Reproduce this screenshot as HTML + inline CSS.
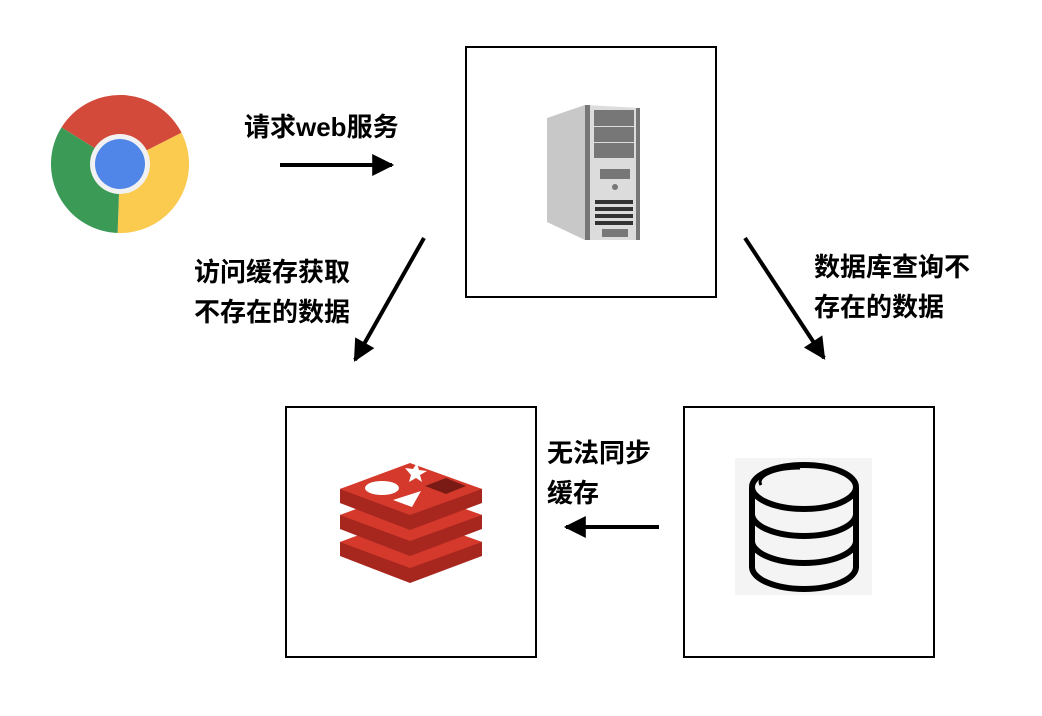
<!DOCTYPE html>
<html><head><meta charset="utf-8"><style>
html,body{margin:0;padding:0;background:#fff;}
body{width:1042px;height:716px;position:relative;overflow:hidden;font-family:"Liberation Sans","Noto Sans CJK SC",sans-serif;}
.t{position:absolute;font-size:26px;font-weight:bold;color:#000;line-height:40px;white-space:nowrap;}
</style></head><body>
<svg width="1042" height="716" style="position:absolute;left:0;top:0">
<defs>
<marker id="ah" viewBox="0 0 10 10" refX="9" refY="5" markerWidth="6" markerHeight="5.5" orient="auto" markerUnits="strokeWidth"><path d="M0,0 L10,5 L0,10 z" fill="#000"/></marker>
</defs>
<rect x="466" y="47" width="250" height="250" fill="none" stroke="#000" stroke-width="2"/>
<rect x="286" y="407" width="250" height="250" fill="none" stroke="#000" stroke-width="2"/>
<rect x="684" y="407" width="250" height="250" fill="none" stroke="#000" stroke-width="2"/>
<path d="M120,164 L61.5,127.4 A69,69 0 0 1 181.5,132.7 Z" fill="#d44a3a"/>
<path d="M120,164 L181.5,132.7 A69,69 0 0 1 117.6,233 Z" fill="#fbcb4f"/>
<path d="M120,164 L117.6,233 A69,69 0 0 1 61.5,127.4 Z" fill="#3a9a56"/>
<circle cx="120" cy="164" r="30" fill="#f1f1f1"/>
<circle cx="120" cy="164" r="25" fill="#4f86e8"/>
<line x1="280" y1="165" x2="392" y2="165" stroke="#000" stroke-width="4" marker-end="url(#ah)"/>
<line x1="424" y1="238" x2="355" y2="360" stroke="#000" stroke-width="4" marker-end="url(#ah)"/>
<line x1="745" y1="238" x2="824" y2="358" stroke="#000" stroke-width="4" marker-end="url(#ah)"/>
<line x1="659" y1="527" x2="566" y2="527" stroke="#000" stroke-width="4" marker-end="url(#ah)"/>
<polygon points="547,118 585,105 585,240 547,222" fill="#c8c8c8"/>
<polygon points="585,105 640,108 640,240 585,240" fill="#dcdcdc"/>
<rect x="585" y="105" width="5" height="135" fill="#777"/>
<rect x="636" y="108" width="4" height="132" fill="#777"/>
<rect x="594" y="110" width="40" height="16" fill="#777"/>
<rect x="594" y="127" width="40" height="15" fill="#777"/>
<rect x="594" y="143" width="40" height="15" fill="#777"/>
<rect x="600" y="169" width="30" height="10" fill="#777"/>
<circle cx="615" cy="187" r="3" fill="#777"/>
<rect x="595" y="200" width="38" height="4" fill="#333"/>
<rect x="595" y="207" width="38" height="4" fill="#333"/>
<rect x="595" y="214" width="38" height="4" fill="#333"/>
<rect x="595" y="221" width="38" height="4" fill="#333"/>
<rect x="602" y="229" width="26" height="8" fill="#777"/>
<g>
<path d="M340,542 L410,518 L482,542 L482,556 L410,583 L340,556 Z" fill="#a7271f"/>
<path d="M340,542 L410,516 L482,542 L410,568 Z" fill="#d4392c"/>
<path d="M340,515 L410,491 L482,515 L482,529 L410,556 L340,529 Z" fill="#a7271f"/>
<path d="M340,515 L410,489 L482,515 L410,541 Z" fill="#d4392c"/>
<path d="M340,489 L410,465 L482,489 L482,503 L410,530 L340,503 Z" fill="#a7271f"/>
<path d="M340,489 L410,463 L482,489 L410,515 Z" fill="#d4392c"/>
<ellipse cx="382" cy="488" rx="17" ry="7" fill="#fff"/>
<polygon points="411,475 405,468 413,469 417,463 419,470 427,471 420,475 422,482 416,478 409,482" fill="#fff"/>
<polygon points="393,500 421,491 412,507" fill="#fff"/>
<polygon points="425,486 446,478 466,486 446,494" fill="#7a1a14"/>
</g>
<rect x="735" y="458" width="137" height="137" fill="#f4f4f4"/>
<g fill="none" stroke="#000" stroke-width="6">
<ellipse cx="804" cy="487" rx="52" ry="22"/>
<path d="M752,487 L752,567 A52,22 0 0 0 856,567 L856,487"/>
<path d="M752,514 A52,22 0 0 0 856,514"/>
<path d="M752,541 A52,22 0 0 0 856,541"/>
</g>
<path d="M761,485 A40,14 0 0 1 800,468" fill="none" stroke="#000" stroke-width="3"/>
</svg>
<div class="t" style="left:244px;top:107px;">请求web服务</div>
<div class="t" style="left:194px;top:252px;">访问缓存获取<br>不存在的数据</div>
<div class="t" style="left:814px;top:247px;">数据库查询不<br>存在的数据</div>
<div class="t" style="left:547px;top:433px;">无法同步<br>缓存</div>
</body></html>
